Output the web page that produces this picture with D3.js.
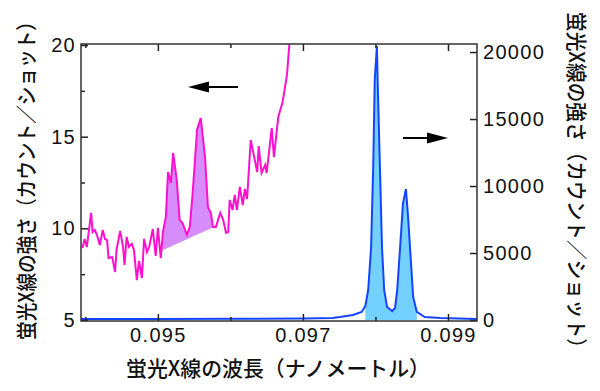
<!DOCTYPE html>
<html>
<head>
<meta charset="utf-8">
<script src="https://cdn.jsdelivr.net/npm/d3@7"></script>
<style>
  html, body { margin: 0; padding: 0; background: #fff; }
  svg { display: block; }
  .tick text { font-family: "Liberation Sans", Arial, sans-serif; font-size: 20px; letter-spacing: 1.3px; fill: #111; }
  .title { font-family: "Noto Sans CJK JP", sans-serif; font-size: 21px; font-weight: 500; fill: #111; }
</style>
</head>
<body>
<div id="vis"></div>
<script>
// 蛍光X線スペクトル: 左軸 = 拡大 (マゼンタ), 右軸 = 全体 (青)
const wlPink = [0.09396, 0.09399, 0.09402, 0.09408, 0.09410, 0.09413, 0.09416, 0.09420, 0.09424, 0.09427,
  0.09430, 0.09432, 0.09437, 0.09441, 0.09443, 0.09448, 0.09452, 0.09454, 0.09457, 0.09460,
  0.09464, 0.09467, 0.09471, 0.09474, 0.09478, 0.09481, 0.09485, 0.09488, 0.09493, 0.09497,
  0.09500, 0.09504, 0.09507, 0.09511, 0.09514, 0.09518, 0.09521, 0.09526, 0.09530, 0.09534,
  0.09540, 0.09544, 0.09548, 0.09554, 0.09559, 0.09562, 0.09565, 0.09569, 0.09573, 0.09576,
  0.09580, 0.09586, 0.09590, 0.09594, 0.09597, 0.09599, 0.09603, 0.09606, 0.09609, 0.09613,
  0.09617, 0.09620, 0.09623, 0.09628, 0.09637, 0.09639, 0.09643, 0.09648, 0.09650, 0.09657,
  0.09660, 0.09666, 0.09672, 0.09678, 0.09681, 0.09684];
const countPink = [8.93, 9.42, 8.98, 10.84, 9.80, 9.91, 9.64, 9.09, 9.91, 9.42,
  9.36, 8.38, 8.44, 7.62, 8.82, 9.86, 8.98, 8.00, 9.53, 8.98,
  9.15, 8.82, 7.18, 8.22, 7.29, 9.42, 8.71, 8.98, 9.96, 8.49,
  10.02, 8.38, 9.80, 10.62, 13.07, 12.47, 14.11, 12.64, 10.46, 10.29,
  9.64, 10.07, 11.93, 15.37, 16.02, 14.98, 13.89, 11.16, 10.84, 10.07,
  10.07, 10.84, 10.46, 9.75, 9.80, 11.55, 11.00, 11.82, 11.00, 12.26,
  11.27, 12.15, 11.60, 14.82, 13.07, 14.49, 13.02, 13.46, 13.02, 15.47,
  13.89, 16.07, 16.89, 18.37, 19.89, 21.0];
// 塗りつぶし範囲 (バックグラウンド直線の両端)
const pinkFillFrom = [0.09506, 8.8];
const pinkFillTo = [0.09576, 10.05];

const wlBlue = [0.09394, 0.0950, 0.0960, 0.0970, 0.09741, 0.09751, 0.09769, 0.09781, 0.09786, 0.09790,
  0.09794, 0.09797, 0.09799, 0.09802, 0.09803, 0.09806, 0.09809, 0.09812, 0.09816, 0.09823,
  0.09827, 0.09830, 0.09834, 0.09838, 0.09842, 0.09845, 0.09849, 0.09852, 0.09857, 0.09868,
  0.09889, 0.09940];
const countBlue = [80, 80, 90, 120, 150, 220, 370, 600, 1040, 2240,
  5450, 11710, 17900, 20440, 17900, 11710, 5450, 2240, 970, 670,
  900, 2240, 5450, 8730, 9770, 7680, 4250, 1720, 600, 220,
  150, 80];
const blueFillRange = [0.09782, 0.09861];

const xMajor = [0.095, 0.097, 0.099];
const xMinor = [0.094, 0.096, 0.098];
const yLeftMajor = [5, 10, 15, 20];
const yLeftMinor = [7.5, 12.5, 17.5];
const yRightMajor = [0, 5000, 10000, 15000, 20000];

const xTitle = "蛍光X線の波長（ナノメートル）";
const yTitle = "蛍光X線の強さ（カウント／ショット）";

const width = 600, height = 391;
const L = 81, R = 477, T = 44, B = 321;

const svg = d3.select("#vis").append("svg")
  .attr("width", width)
  .attr("height", height);

const x = d3.scaleLinear().domain([0.09394, 0.0994]).range([L, R]);
const yL = d3.scaleLinear().domain([5, 20]).range([320, 45]);
const yR = d3.scaleLinear().domain([0, 20600]).range([320, T]);

svg.append("clipPath").attr("id", "clip")
  .append("rect").attr("x", L).attr("y", T).attr("width", R - L).attr("height", B - T);

const plot = svg.append("g").attr("clip-path", "url(#clip)");

// 青: 全体スペクトル
const blue = wlBlue.map((w, i) => [w, countBlue[i]]);
const blueIn = blue.filter(d => d[0] >= blueFillRange[0] && d[0] <= blueFillRange[1]);
plot.append("path")
  .datum(blueIn)
  .attr("fill", "#74d1ff")
  .attr("d", d3.area().x(d => x(d[0])).y0(yR(0)).y1(d => yR(d[1])));
plot.append("path")
  .datum(blue)
  .attr("fill", "none")
  .attr("stroke", "#1444ff")
  .attr("stroke-width", 2)
  .attr("d", d3.line().x(d => x(d[0])).y(d => yR(d[1])));

// マゼンタ: 拡大
const pink = wlPink.map((w, i) => [w, countPink[i]]);
const slope = (pinkFillTo[1] - pinkFillFrom[1]) / (pinkFillTo[0] - pinkFillFrom[0]);
const base = w => pinkFillFrom[1] + slope * (w - pinkFillFrom[0]);
const pinkIn = [pinkFillFrom].concat(
  pink.filter(d => d[0] > pinkFillFrom[0] && d[0] < pinkFillTo[0]), [pinkFillTo]);
plot.append("path")
  .datum(pinkIn)
  .attr("fill", "#d68cfa")
  .attr("d", d3.area().x(d => x(d[0])).y0(d => yL(base(d[0]))).y1(d => yL(d[1])));
plot.append("path")
  .datum(pink)
  .attr("fill", "none")
  .attr("stroke", "#ff10d0")
  .attr("stroke-width", 2)
  .attr("d", d3.line().x(d => x(d[0])).y(d => yL(d[1])));

// 軸
function drawAxis(axis, tx, ty) {
  const g = svg.append("g").attr("transform", "translate(" + tx + "," + ty + ")").call(axis);
  g.select(".domain").remove();
  g.selectAll(".tick line").attr("stroke", "#222").attr("stroke-width", 1.5);
  return g;
}
drawAxis(d3.axisBottom(x).tickValues(xMajor).tickFormat(d3.format(".3f")).tickSizeInner(-7).tickSizeOuter(0).tickPadding(7), 0, B);
drawAxis(d3.axisBottom(x).tickValues(xMinor).tickFormat("").tickSizeInner(-4).tickSizeOuter(0), 0, B);
drawAxis(d3.axisTop(x).tickValues(xMajor).tickFormat("").tickSizeInner(-7).tickSizeOuter(0), 0, T);
drawAxis(d3.axisTop(x).tickValues(xMinor).tickFormat("").tickSizeInner(-4).tickSizeOuter(0), 0, T);
drawAxis(d3.axisLeft(yL).tickValues(yLeftMajor).tickFormat(d3.format("d")).tickSizeInner(-7).tickSizeOuter(0).tickPadding(5), L, 0);
drawAxis(d3.axisLeft(yL).tickValues(yLeftMinor).tickFormat("").tickSizeInner(-4).tickSizeOuter(0), L, 0);
drawAxis(d3.axisRight(yR).tickValues(yRightMajor).tickFormat(d3.format("d")).tickSizeInner(-7).tickSizeOuter(0).tickPadding(6), R, 0);

svg.append("rect")
  .attr("x", L).attr("y", T).attr("width", R - L).attr("height", B - T)
  .attr("fill", "none").attr("stroke", "#333").attr("stroke-width", 1.5);

// 矢印
function arrow(x1, x2, yy) {
  const dir = Math.sign(x2 - x1);
  svg.append("line")
    .attr("x1", x1).attr("x2", x2 - dir * 15).attr("y1", yy).attr("y2", yy)
    .attr("stroke", "#000").attr("stroke-width", 2);
  svg.append("path")
    .attr("d", "M" + x2 + "," + yy + "L" + (x2 - dir * 21) + "," + (yy - 5.5) + "L" + (x2 - dir * 21) + "," + (yy + 5.5) + "Z")
    .attr("fill", "#000");
}
arrow(238, 188, 87);
arrow(403, 448, 138);

// タイトル
svg.append("text").attr("class", "title")
  .attr("x", 278).attr("y", 376)
  .attr("text-anchor", "middle")
  .attr("textLength", 304).attr("lengthAdjust", "spacingAndGlyphs")
  .text(xTitle);
svg.append("text").attr("class", "title")
  .attr("transform", "translate(34,176) rotate(-90)")
  .attr("text-anchor", "middle")
  .attr("textLength", 328).attr("lengthAdjust", "spacingAndGlyphs")
  .text(yTitle);
svg.append("text").attr("class", "title")
  .attr("transform", "translate(569,185) rotate(90)")
  .attr("text-anchor", "middle")
  .attr("textLength", 346).attr("lengthAdjust", "spacingAndGlyphs")
  .text(yTitle);
</script>
</body>
</html>
